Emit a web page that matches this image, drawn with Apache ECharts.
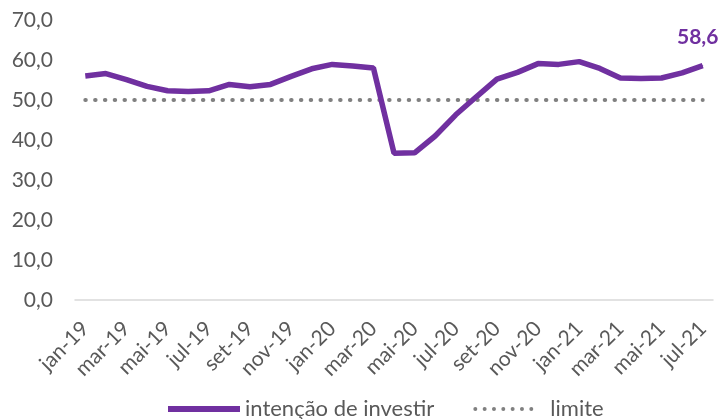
<!DOCTYPE html>
<html>
<head>
<meta charset="utf-8">
<script src="https://cdn.jsdelivr.net/npm/echarts@6/dist/echarts.min.js"></script>
<style>
    html, body { margin: 0; padding: 0; background: #fff; }
    #chart { width: 721px; height: 419px; }
</style>
</head>
<body>
<div id="chart"></div>
<script>
// meses de jan-19 a jul-21
const meses = [
    'jan-19', 'fev-19', 'mar-19', 'abr-19', 'mai-19', 'jun-19', 'jul-19', 'ago-19', 'set-19', 'out-19', 'nov-19', 'dez-19',
    'jan-20', 'fev-20', 'mar-20', 'abr-20', 'mai-20', 'jun-20', 'jul-20', 'ago-20', 'set-20', 'out-20', 'nov-20', 'dez-20',
    'jan-21', 'fev-21', 'mar-21', 'abr-21', 'mai-21', 'jun-21', 'jul-21'
];

// intenção de investir
const intencao = [
    56.0, 56.6, 55.1, 53.4, 52.3, 52.1, 52.3, 53.9, 53.3, 53.9, 55.9, 57.8,
    58.9, 58.5, 58.0, 36.7, 36.8, 41.0, 46.3, 50.8, 55.2, 56.9, 59.1, 58.9,
    59.6, 57.9, 55.5, 55.4, 55.5, 56.8, 58.6
];

// limite
const limite = meses.map(() => 50);

const roxo = '#7030a0';
const cinza = '#808080';
const cinzaTexto = '#595959';
const fonte = 'Lato, "Noto Sans", sans-serif';

// icone pontilhado da legenda: 7 pontos + um ponto invisivel no fim (espaco antes do texto)
let pontos = '';
for (let k = 0; k < 7; k++) {
    const cx = 2 + k * 9.33;
    pontos += 'M' + (cx - 2).toFixed(2) + ',3 a2,2 0 1,0 4,0 a2,2 0 1,0 -4,0 ';
}
pontos += 'M71.9,3 a0.05,0.05 0 1,0 0.1,0 a0.05,0.05 0 1,0 -0.1,0';

const chart = echarts.init(document.getElementById('chart'));

// so o ultimo ponto recebe rotulo
const dadosIntencao = intencao.map((v, i) => {
    if (i !== intencao.length - 1) return v;
    return {
        value: v,
        symbol: 'circle',
        symbolSize: 1,
        label: {
            show: true, position: 'top', distance: 14, offset: [-5, -3],
            formatter: p => p.value.toFixed(1).replace('.', ','),
            color: roxo, fontWeight: 'bold', fontSize: 21, fontFamily: fonte
        }
    };
});

chart.setOption({
    animation: false,
    textStyle: { fontFamily: fonte },
    grid: { left: 75, right: 8, top: 20, bottom: 119 },
    legend: {
        left: 163, top: 393,
        itemWidth: 72, itemHeight: 6, itemGap: 39,
        textStyle: { color: cinzaTexto, fontSize: 22, fontFamily: fonte },
        data: [
            { name: 'intenção de investir', icon: 'rect', itemStyle: { color: roxo } },
            { name: 'limite', icon: 'path://' + pontos, itemStyle: { color: cinza } }
        ]
    },
    xAxis: {
        type: 'category',
        data: meses,
        boundaryGap: true,
        axisLine: { lineStyle: { color: '#d9d9d9', width: 1.5 } },
        axisTick: { interval: 1, length: 6, lineStyle: { color: '#d9d9d9', width: 1.5 } },
        axisLabel: { interval: 1, rotate: 45, color: cinzaTexto, fontSize: 21, fontFamily: fonte, margin: 25 }
    },
    yAxis: {
        type: 'value', min: 0, max: 70, interval: 10,
        axisLine: { show: false },
        axisTick: { show: false },
        splitLine: { show: false },
        axisLabel: {
            color: cinzaTexto, fontSize: 21, fontFamily: fonte, margin: 22,
            formatter: v => v.toFixed(1).replace('.', ',')
        }
    },
    series: [
        {
            name: 'intenção de investir',
            type: 'line',
            data: dadosIntencao,
            symbol: 'none',
            color: roxo,
            lineStyle: { color: roxo, width: 5.5 },
            z: 3
        },
        {
            name: 'limite',
            type: 'line',
            data: limite,
            symbol: 'none',
            color: cinza,
            lineStyle: { color: cinza, width: 4, type: [0.5, 9.3], cap: 'round' },
            z: 2
        }
    ]
});
</script>
</body>
</html>
